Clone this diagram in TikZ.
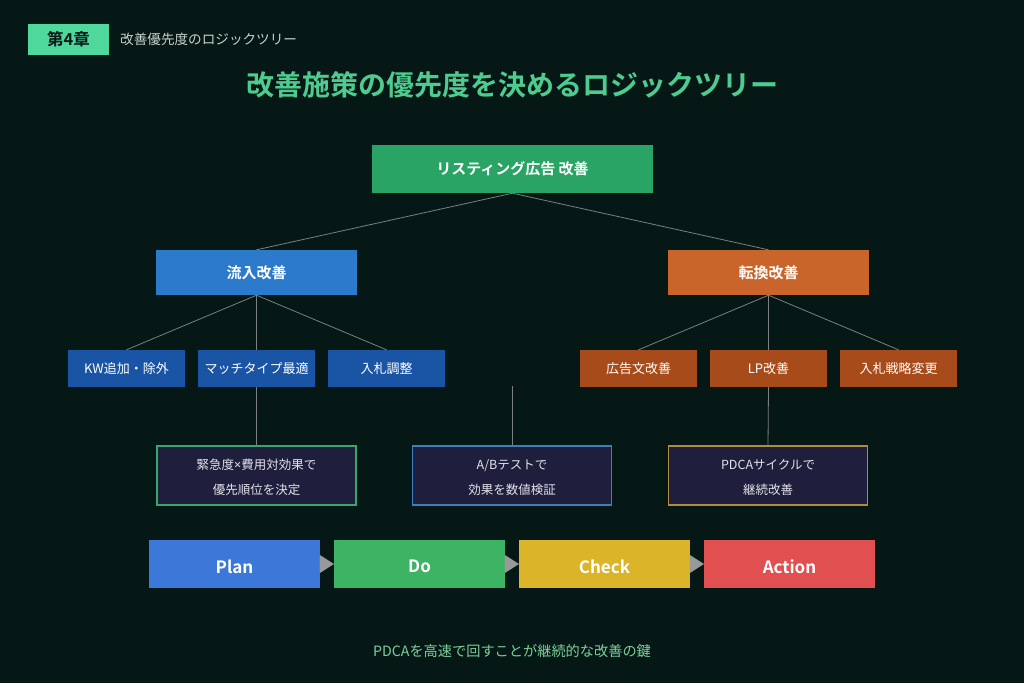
\documentclass[tikz,border=0pt]{standalone}
\usepackage{fontspec}
\setmainfont{Noto Sans CJK JP}[BoldFont={* Bold}]
\newfontfamily\latinfont{Noto Sans}
\usetikzlibrary{arrows.meta}
\definecolor{bg}{HTML}{061816}
\definecolor{mint}{HTML}{4FD89B}
\definecolor{titlec}{HTML}{4ECB8E}
\definecolor{subc}{HTML}{C8D0CC}
\definecolor{notec}{HTML}{E2E2EA}
\definecolor{rootc}{HTML}{2AA465}
\definecolor{lblue}{HTML}{2B7ACB}
\definecolor{lorange}{HTML}{C9652A}
\definecolor{cblue}{HTML}{1A55A5}
\definecolor{corange}{HTML}{A84B1A}
\definecolor{navy}{HTML}{1F1E3C}
\definecolor{bgreen}{HTML}{3AA76A}
\definecolor{bblue}{HTML}{3A80C0}
\definecolor{bgold}{HTML}{B08A40}
\definecolor{planc}{HTML}{3C78D8}
\definecolor{doc}{HTML}{3CB464}
\definecolor{checkc}{HTML}{DBB42A}
\definecolor{actc}{HTML}{E05050}
\definecolor{linec}{HTML}{7A8080}
\definecolor{footc}{HTML}{7DCF9A}
\definecolor{arrc}{HTML}{999999}
\tikzset{
  box/.style={inner sep=0pt, text=white, font=\bfseries\fontsize{15}{18}\selectfont},
  lvtwo/.style={box, minimum width=201pt, minimum height=45pt},
  leaf/.style={inner sep=0pt, minimum width=117pt, minimum height=37pt, text=white, font=\fontsize{13}{16}\selectfont},
  note/.style={inner sep=0pt, minimum width=199pt, minimum height=59pt, fill=navy, line width=1.6pt, text=notec, align=center, font=\fontsize{12.5}{25}\selectfont},
  pdca/.style={inner sep=0pt, minimum width=171pt, minimum height=48pt, text=white, text height=18pt, text depth=0pt, font=\bfseries\fontsize{17}{20}\selectfont},
  link/.style={draw=linec, line width=0.8pt},
  flow/.style={draw=arrc, line width=0.01pt, -{Triangle[length=14pt,width=18pt,fill=arrc]}}
}
\newcommand{\nstrut}{\rule{0pt}{15pt}}
\begin{document}
\begin{tikzpicture}[x=1pt, y=-1pt]
\useasboundingbox (0,0) rectangle (1024,683);
\fill[bg] (0,0) rectangle (1024,683);
% header
\node[fill=mint, minimum width=81pt, minimum height=31pt, inner sep=0pt, text=bg, font=\bfseries\fontsize{16.5}{18}\selectfont] (chap) at (68.5,39.5) {第4章};
\node[anchor=west, inner sep=0pt, text=subc, font=\fontsize{13.6}{15}\selectfont] (sub) at (120,39.5) {改善優先度のロジックツリー};
\node[text=titlec, inner sep=0pt, font=\bfseries\fontsize{28}{30}\selectfont] (title) at (512,84.5) {改善施策の優先度を決めるロジックツリー};
% root
\node[box, fill=rootc, minimum width=281pt, minimum height=48pt] (root) at (512.5,169) {リスティング広告 改善};
% level 2
\node[lvtwo, fill=lblue] (inflow) at (256.5,272.5) {流入改善};
\node[lvtwo, fill=lorange] (conv) at (768.5,272.5) {転換改善};
% leaves
\node[leaf, fill=cblue] (kw) at (126.5,368.5) {KW追加・除外};
\node[leaf, fill=cblue] (match) at (256.5,368.5) {マッチタイプ最適};
\node[leaf, fill=cblue] (bid) at (386.5,368.5) {入札調整};
\node[leaf, fill=corange] (ad) at (638.5,368.5) {広告文改善};
\node[leaf, fill=corange] (lp) at (768.5,368.5) {LP改善};
\node[leaf, fill=corange] (bidst) at (898.5,368.5) {入札戦略変更};
% notes
\node[note, draw=bgreen] (n1) at (256.5,475.5) {\nstrut 緊急度{\latinfont ×}費用対効果で\\優先順位を決定};
\node[note, draw=bblue] (n2) at (512,475.5) {\nstrut A/Bテストで\\効果を数値検証};
\node[note, draw=bgold] (n3) at (768,475.5) {\nstrut PDCAサイクルで\\継続改善};
% connectors
\draw[link] (root.south) -- (inflow.north);
\draw[link] (root.south) -- (conv.north);
\foreach \c in {kw,match,bid} \draw[link] (inflow.south) -- (\c.north);
\foreach \c in {ad,lp,bidst} \draw[link] (conv.south) -- (\c.north);
\draw[link] (match.south) -- (n1.north);
\coordinate (mid) at (512,386);
\draw[link] (mid) -- (n2.north);
\draw[link] (lp.south) -- (n3.north);
% PDCA
\node[pdca, fill=planc] (plan) at (234.5,564) {Plan};
\node[pdca, fill=doc, text height=16pt] (do) at (419.5,564) {Do};
\node[pdca, fill=checkc] (check) at (604.5,564) {Check};
\node[pdca, fill=actc] (act) at (789.5,564) {Action};
\draw[flow] (plan.east) -- (do.west);
\draw[flow] (do.east) -- (check.west);
\draw[flow] (check.east) -- (act.west);
% footer
\node[text=footc, inner sep=0pt, font=\fontsize{14.2}{16}\selectfont] (foot) at (512,651.5) {PDCAを高速で回すことが継続的な改善の鍵};
\end{tikzpicture}
\end{document}
